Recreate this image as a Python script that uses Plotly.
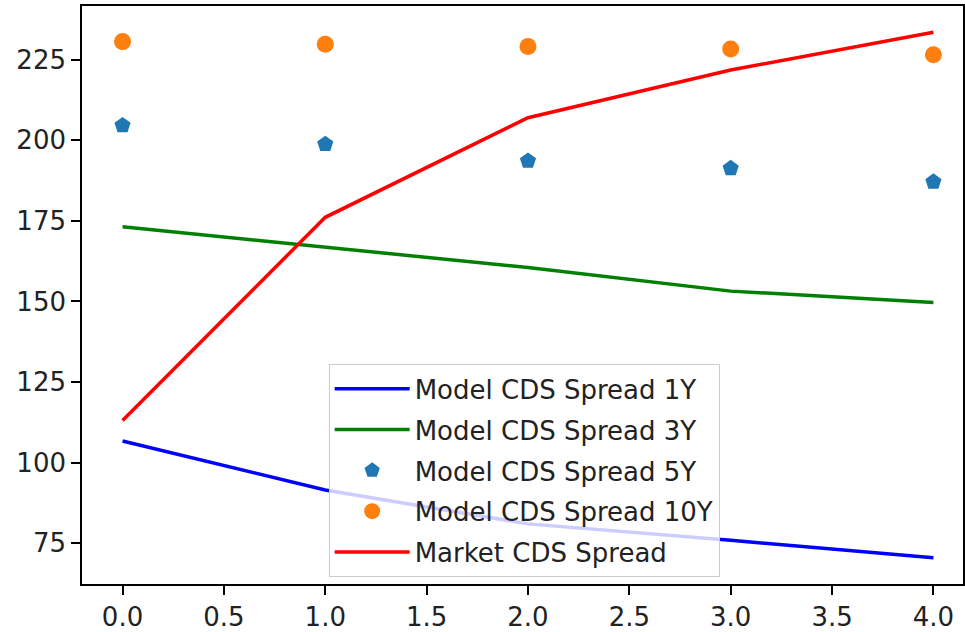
import plotly.graph_objects as go

# time steps
steps = [0, 1, 2, 3, 4]

# model CDS spreads by tenor (bp)
model_1y = [106.7, 91.5, 81.0, 75.9, 70.5]
model_3y = [173.2, 166.8, 160.5, 153.2, 149.7]
model_5y = [204.6, 198.8, 193.6, 191.3, 187.1]
model_10y = [230.6, 229.8, 229.1, 228.3, 226.5]

# observed market spread
market = [113.1, 176.1, 207.0, 221.8, 233.5]

FONT = "DejaVu Sans"
FS = 26

fig = go.Figure()
fig.add_trace(go.Scatter(x=steps, y=model_1y, mode="lines", name="Model CDS Spread 1Y",
                         line=dict(color="#0000ff", width=3.5), legendgroup="a"))
fig.add_trace(go.Scatter(x=steps, y=model_3y, mode="lines", name="Model CDS Spread 3Y",
                         line=dict(color="#008000", width=3.5), legendgroup="b"))
fig.add_trace(go.Scatter(x=steps, y=model_5y, mode="markers", name="Model CDS Spread 5Y",
                         marker=dict(symbol="pentagon", color="#1f77b4", size=17), legendgroup="c"))
fig.add_trace(go.Scatter(x=steps, y=model_10y, mode="markers", name="Model CDS Spread 10Y",
                         marker=dict(symbol="circle", color="#ff7f0e", size=17), legendgroup="d"))
fig.add_trace(go.Scatter(x=steps, y=market, mode="lines", name="Market CDS Spread",
                         line=dict(color="#ff0000", width=3.5), legendgroup="e"))

axis_common = dict(
    showline=True, linecolor="black", linewidth=1.6, mirror=True,
    ticks="outside", ticklen=9, tickwidth=1.6, tickcolor="black",
    showgrid=False, zeroline=False,
    tickfont=dict(family=FONT, size=FS, color="#222222"),
)

fig.update_layout(
    width=965, height=632,
    margin=dict(l=82, r=0, t=6, b=44),
    plot_bgcolor="white", paper_bgcolor="white",
    font=dict(family=FONT, size=FS, color="#222222"),
    xaxis=dict(range=[-0.2, 4.146], tickmode="linear", tick0=0, dtick=0.5,
               tickformat=".1f", **axis_common),
    yaxis=dict(range=[62.35, 241.65], tickmode="linear", tick0=0, dtick=25,
               **axis_common),
    legend=dict(
        x=0.28, y=0.38, xanchor="left", yanchor="top",
        bgcolor="rgba(255,255,255,0.8)", bordercolor="#cccccc", borderwidth=1,
        font=dict(family=FONT, size=FS, color="#222222"),
        tracegroupgap=4, itemwidth=75,
    ),
    showlegend=True,
)

fig.write_html("out.html")
